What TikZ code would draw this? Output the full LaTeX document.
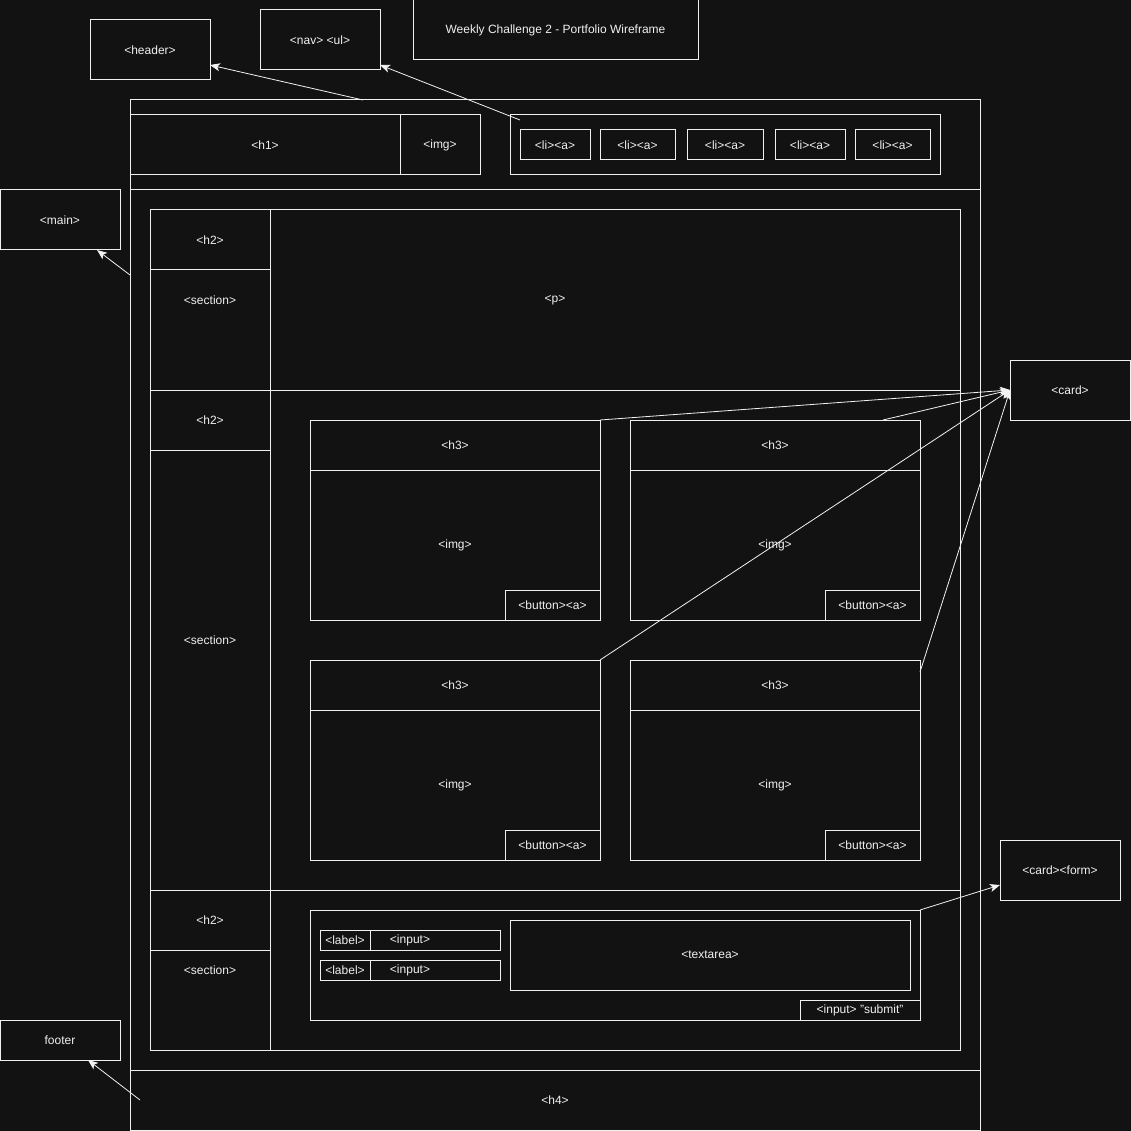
\documentclass[tikz,border=0pt]{standalone}
\usepackage{fontspec}
\setmainfont{Liberation Sans}
\usetikzlibrary{arrows.meta}
\definecolor{bg}{HTML}{121212}
\definecolor{fg}{HTML}{F0F0F0}
\newcommand\wbox[6]{\node[bx, minimum width={(#4)-(#2)}, minimum height={(#5)-(#3)}] (#1) at ({((#2)+(#4))/2},{((#3)+(#5))/2}) {#6};}
\begin{document}
\begin{tikzpicture}[x=1pt,y=-1pt,
  bx/.style={draw=fg, line width=1pt, inner sep=0pt, outer sep=0pt, text=fg, font=\fontsize{12}{14}\selectfont, rectangle},
  tx/.style={text=fg, inner sep=0pt, font=\fontsize{12}{14}\selectfont},
  arr/.style={draw=fg!85, line width=0.8pt, -{Stealth[length=10pt,width=8pt,inset=2.5pt]}}]
\fill[bg] (0,0) rectangle (1131,1131);
\useasboundingbox (0,0) rectangle (1131,1131);
% top labels
\wbox{header}{90}{20}{210}{80}{<header>}
\wbox{nav}{260}{10}{380}{70}{<nav> <ul>}
\wbox{title}{413}{0}{698}{60}{Weekly Challenge 2 - Portfolio Wireframe}
% page frame
\wbox{hdr}{130}{100}{980}{190}{}
\wbox{mainr}{130}{190}{980}{1070}{}
\wbox{foot}{130}{1070}{980}{1130}{<h4>}
\wbox{h1}{130}{115}{400}{175}{<h1>}
\wbox{himg}{400}{115}{480}{175}{<img>}
\wbox{navin}{510}{115}{940}{175}{}
\wbox{li1}{520}{130}{590}{160}{<li><a>}
\wbox{li2}{600}{130}{675}{160}{<li><a>}
\wbox{li3}{687}{130}{763}{160}{<li><a>}
\wbox{li4}{775}{130}{845}{160}{<li><a>}
\wbox{li5}{855}{130}{930}{160}{<li><a>}
\wbox{mainlbl}{0}{190}{120}{250}{<main>}
% sections
\wbox{secs}{150}{210}{960}{1050}{}
\wbox{sec1}{150}{210}{960}{390}{<p>}
\wbox{h2a}{150}{210}{270}{270}{<h2>}
\wbox{col1}{150}{270}{270}{390}{}
\node[tx] (s1t) at (210,300) {<section>};
\wbox{sec2}{150}{390}{960}{890}{}
\wbox{h2b}{150}{390}{270}{450}{<h2>}
\wbox{col2}{150}{450}{270}{890}{}
\node[tx] (s2t) at (210,640) {<section>};
% cards
\wbox{cardA}{310}{420}{600}{620}{}
\wbox{cardAh}{310}{420}{600}{470}{<h3>}
\node[tx] (cardAi) at (455,545) {<img>};
\wbox{cardAb}{505}{590}{600}{620}{<button><a>}
\wbox{cardB}{630}{420}{920}{620}{}
\wbox{cardBh}{630}{420}{920}{470}{<h3>}
\node[tx] (cardBi) at (775,545) {<img>};
\wbox{cardBb}{825}{590}{920}{620}{<button><a>}
\wbox{cardC}{310}{660}{600}{860}{}
\wbox{cardCh}{310}{660}{600}{710}{<h3>}
\node[tx] (cardCi) at (455,785) {<img>};
\wbox{cardCb}{505}{830}{600}{860}{<button><a>}
\wbox{cardD}{630}{660}{920}{860}{}
\wbox{cardDh}{630}{660}{920}{710}{<h3>}
\node[tx] (cardDi) at (775,785) {<img>};
\wbox{cardDb}{825}{830}{920}{860}{<button><a>}
% section 3
\wbox{sec3}{150}{890}{960}{1050}{}
\wbox{h2c}{150}{890}{270}{950}{<h2>}
\wbox{col3}{150}{950}{270}{1050}{}
\node[tx] (s3t) at (210,970) {<section>};
\wbox{form}{310}{910}{920}{1020}{}
\wbox{lab1}{320}{930}{370}{950}{<label>}
\wbox{in1}{370}{930}{500}{950}{}
\node[tx] (in1t) at (410,940) {<input>};
\wbox{lab2}{320}{960}{370}{980}{<label>}
\wbox{in2}{370}{960}{500}{980}{}
\node[tx] (in2t) at (410,970) {<input>};
\wbox{textarea}{510}{920}{910}{990}{<textarea>}
\wbox{submit}{800}{1000}{920}{1020}{<input> "submit"}
% side labels
\wbox{card}{1010}{360}{1130}{420}{<card>}
\wbox{cardform}{1000}{840}{1120}{900}{<card><form>}
\wbox{footer}{0}{1020}{120}{1060}{footer}
% arrow end points
\coordinate (hdrS) at (363,100);
\coordinate (hdrE) at (210,65);
\coordinate (navS) at (520,120);
\coordinate (navE) at (380,65);
\coordinate (mainS) at (130,275);
\coordinate (mainE) at (97,250);
\coordinate (cardBS) at (883,420);
\coordinate (cardDS) at (920,672);
\coordinate (formE) at (1000,885);
\coordinate (footS) at (140,1100);
\coordinate (footE) at (88,1060);
% arrows
\draw[arr] (hdrS) -- (hdrE);
\draw[arr] (navS) -- (navE);
\draw[arr] (mainS) -- (mainE);
\draw[arr] (cardA.north east) -- (card.west);
\draw[arr] (cardBS) -- (card.west);
\draw[arr] (cardC.north east) -- (card.west);
\draw[arr] (cardDS) -- (card.west);
\draw[arr] (form.north east) -- (formE);
\draw[arr] (footS) -- (footE);
\end{tikzpicture}
\end{document}
